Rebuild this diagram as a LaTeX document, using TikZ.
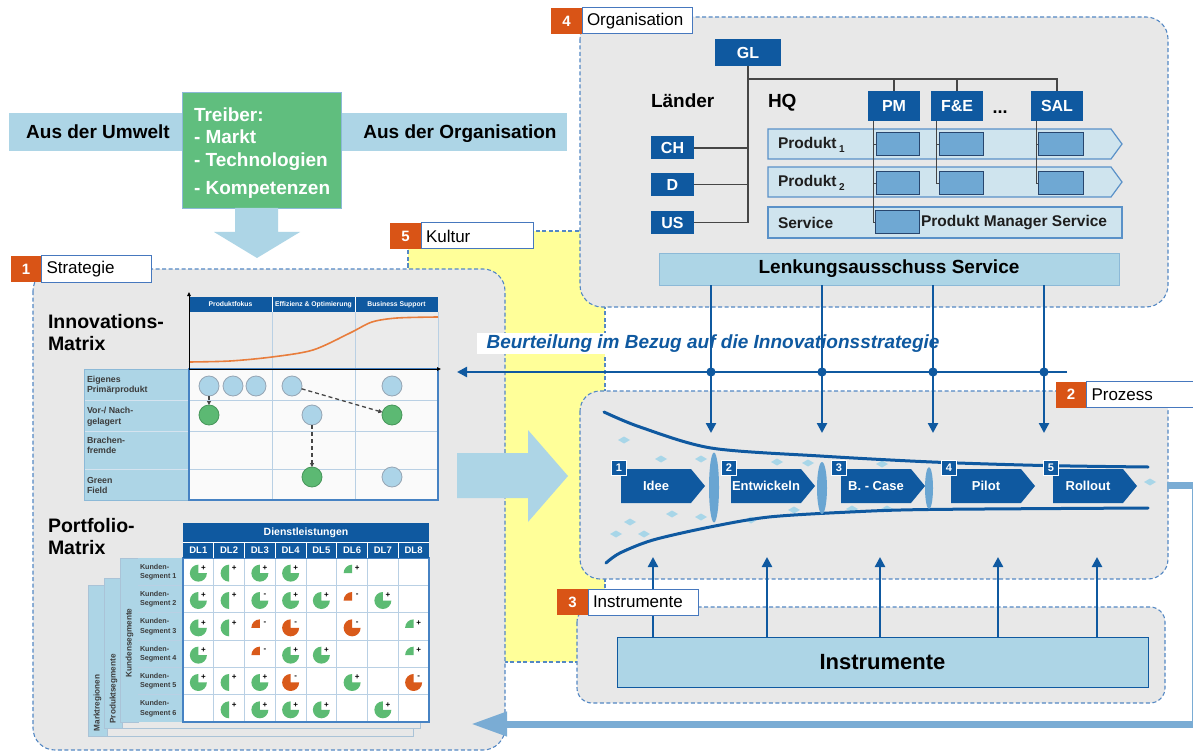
\documentclass[tikz,border=0pt]{standalone}
\usepackage{fontspec}
\setmainfont{Liberation Sans}
\usetikzlibrary{arrows.meta,calc}

\definecolor{dblue}{RGB}{15,89,160}
\definecolor{lblue}{RGB}{173,213,230}
\definecolor{lboxline}{RGB}{140,185,215}
\definecolor{pblue}{RGB}{207,228,238}
\definecolor{bandline}{RGB}{90,145,200}
\definecolor{mblue}{RGB}{111,168,211}
\definecolor{inline}{RGB}{40,70,110}
\definecolor{eblue}{RGB}{105,165,210}
\definecolor{dashcol}{RGB}{84,136,196}
\definecolor{tagline}{RGB}{70,120,190}
\definecolor{boxgray}{RGB}{232,232,232}
\definecolor{tagorange}{RGB}{217,84,22}
\definecolor{drvgreen}{RGB}{96,190,126}
\definecolor{piegreen}{RGB}{92,187,115}
\definecolor{pieorange}{RGB}{217,90,26}
\definecolor{kyellow}{RGB}{255,255,153}
\definecolor{diam}{RGB}{168,214,232}
\definecolor{fback}{RGB}{122,172,212}
\definecolor{treecol}{RGB}{70,70,70}
\definecolor{txtdark}{RGB}{30,30,30}
\definecolor{lbltxt}{RGB}{60,60,60}
\definecolor{gridl}{RGB}{185,208,228}
\definecolor{gridborder}{RGB}{70,130,195}
\definecolor{circlb}{RGB}{172,212,232}
\definecolor{circline}{RGB}{150,165,180}
\definecolor{circgr}{RGB}{92,185,115}
\definecolor{circgrline}{RGB}{70,150,90}
\definecolor{scurve}{RGB}{232,125,60}
\definecolor{sheetline}{RGB}{170,195,215}

\newcommand\fsz[1]{\fontsize{#1}{#1}\selectfont}
\newcommand\fszl[2]{\fontsize{#1}{#2}\selectfont}

% small diamond marks inside the funnel
\newcommand\dmd[2]{\fill[diam] (#1-6,#2) -- (#1,#2-3.5) -- (#1+6,#2) -- (#1,#2+3.5) -- cycle;}

% portfolio cell: column, row, kind (t = three quarter, h = half, q = quarter), colour, sign
\newcommand\pcell[5]{%
  \pgfmathsetmacro\cx{183+30.75*(#1-0.5)}%
  \pgfmathsetmacro\cy{558+27.33*(#2-0.5)+1.5}%
  \if t#3\fill[#4] (\cx,\cy) -- ++(8.5,0) arc[start angle=0,end angle=270,radius=8.5] -- cycle;\fi
  \if h#3\fill[#4] (\cx,\cy) -- ++(0,8.5) arc[start angle=90,end angle=270,radius=8.5] -- cycle;\fi
  \if q#3\fill[#4] (\cx,\cy) -- ++(-8.5,0) arc[start angle=180,end angle=270,radius=8.5] -- cycle;\fi
  \node[font=\fsz{8}\bfseries] (sg#1#2) at (\cx+5,\cy-5) {#5};
}

% process step chevron: left x, name, number, label
\newcommand\stepchev[4]{%
  \fill[dblue] (#1,469) -- (#1+70,469) -- (#1+84,486) -- (#1+70,503) -- (#1,503) -- cycle;
  \node[font=\fsz{13}\bfseries,text=white] (#2) at (#1+35,486) {#4};
  \node[fill=dblue,draw=white,line width=0.8pt,minimum size=15pt,font=\fsz{11}\bfseries,text=white] (#2n) at (#1-2,467.5) {#3};
}

\begin{document}
\begin{tikzpicture}[x=1pt,y=-1pt,
  every node/.style={inner sep=0pt,outer sep=0pt},
  container/.style={draw=dashcol,line width=1.1pt,dash pattern=on 4pt off 2.5pt},
  tagnum/.style={fill=tagorange,text=white,font=\fsz{15}\bfseries,minimum width=31pt,minimum height=26pt},
  tagtext/.style={draw=tagline,fill=white,line width=1pt,minimum height=26pt,inner xsep=5pt,align=left,anchor=west,font=\fsz{17}},
  dbox/.style={fill=dblue,text=white,font=\fsz{16}\bfseries},
  inbox/.style={fill=mblue,draw=inline,line width=1pt},
  band/.style={fill=pblue,draw=bandline,line width=1.2pt},
  lbox/.style={fill=lblue,draw=lboxline,line width=0.8pt},
  tree/.style={draw=treecol,line width=1.1pt},
  thintree/.style={draw=treecol,line width=0.8pt},
  varrow/.style={draw=dblue,line width=2.4pt,-{Triangle[length=10pt,width=10pt]}},
  lbc/.style={circle,minimum size=20pt,fill=circlb,draw=circline,line width=0.8pt},
  grc/.style={circle,minimum size=20pt,fill=circgr,draw=circgrline,line width=0.8pt},
  dasharrow/.style={draw=treecol,line width=1.3pt,dash pattern=on 4pt off 3pt,-{Triangle[length=4pt,width=4pt]}},
  sheet/.style={draw=sheetline,line width=0.8pt},
]
\useasboundingbox (0,0) rectangle (1193,751);
\fill[white] (0,0) rectangle (1193,751);

%% culture background
\draw[container,fill=kyellow] (408,231) rectangle (605,662);

%% containers
\draw[container,fill=boxgray,rounded corners=22pt] (33,269) rectangle (505,750);
\draw[container,fill=boxgray,rounded corners=22pt] (580,17) rectangle (1168,307);
\draw[container,fill=boxgray,rounded corners=20pt] (580,391) rectangle (1168,579);
\draw[container,fill=boxgray,rounded corners=15pt] (577,607) rectangle (1165,703);

%% drivers
\fill[lblue] (9,113) rectangle (567,151);
\node[font=\fsz{19}\bfseries,anchor=base] (umw) at (98,139) {Aus der Umwelt};
\node[font=\fsz{19}\bfseries,anchor=base] (orgsrc) at (460,139) {Aus der Organisation};
\node[fill=drvgreen,draw=lboxline,line width=0.8pt,minimum width=159pt,minimum height=116pt,anchor=north west] (drv) at (182,92) {};
\node[font=\fsz{19}\bfseries,text=white,anchor=base west] (d1) at (194,122) {Treiber:};
\node[font=\fsz{19}\bfseries,text=white,anchor=base west] (d2) at (194,144) {- Markt};
\node[font=\fsz{19}\bfseries,text=white,anchor=base west] (d3) at (194,167) {- Technologien};
\node[font=\fsz{19}\bfseries,text=white,anchor=base west] (d4) at (194,195) {- Kompetenzen};
\fill[lblue] (235,208) -- (278,208) -- (278,232) -- (300,232) -- (257,258) -- (214,232) -- (235,232) -- cycle;

%% big arrow strategy -> process
\fill[lblue] (457,453) -- (528,453) -- (528,430) -- (568,476) -- (528,522) -- (528,498) -- (457,498) -- cycle;

%% ---------- Organisation ----------
\node[dbox,minimum width=66pt,minimum height=27pt] (gl) at (748,52.5) {GL};
\node[dbox,minimum width=43pt,minimum height=23pt] (ch) at (672.5,148) {CH};
\node[dbox,minimum width=43pt,minimum height=23pt] (dd) at (672.5,184.5) {D};
\node[dbox,minimum width=43pt,minimum height=23pt] (us) at (672.5,222.5) {US};
\node[dbox,minimum width=52pt,minimum height=30pt] (pm) at (894,106) {PM};
\node[dbox,minimum width=52pt,minimum height=30pt] (fe) at (957,106) {F\&E};
\node[dbox,minimum width=52pt,minimum height=30pt] (sal) at (1057,106) {SAL};
\node[font=\fsz{18}\bfseries] (dots) at (1000,112) {...};
\coordinate (hq) at (748,79);
\draw[tree] (gl.south) |- (us.east);
\draw[tree] (ch.east) -- (ch.east -| gl.south);
\draw[tree] (dd.east) -- (dd.east -| gl.south);
\draw[tree] (hq) -| (sal.north);
\draw[tree] (hq -| pm.north) -- (pm.north);
\draw[tree] (hq -| fe.north) -- (fe.north);
\node[font=\fsz{19}\bfseries,anchor=base west] (laender) at (651,108) {Länder};
\node[font=\fsz{19}\bfseries,anchor=base west] (hqt) at (768,108) {HQ};

\draw[band] (768,129) -- (1111,129) -- (1122,144) -- (1111,159) -- (768,159) -- cycle;
\draw[band] (768,167) -- (1111,167) -- (1122,182) -- (1111,197) -- (768,197) -- cycle;
\node[band,minimum width=354pt,minimum height=31pt,anchor=north west] (svc) at (768,207) {};
\node[font=\fsz{15.5}\bfseries,text=txtdark,anchor=west] (p1t) at (778,145) {Produkt\,\raisebox{-4pt}{\fsz{10}1}};
\node[font=\fsz{15.5}\bfseries,text=txtdark,anchor=west] (p2t) at (778,183) {Produkt\,\raisebox{-4pt}{\fsz{10}2}};
\node[font=\fsz{15.5}\bfseries,text=txtdark,anchor=west] (svt) at (778,222.5) {Service};

\node[inbox,minimum width=43pt,minimum height=23pt] (p1a) at (897.5,144.5) {};
\node[inbox,minimum width=44pt,minimum height=23pt] (p1b) at (961,144.5) {};
\node[inbox,minimum width=45pt,minimum height=23pt] (p1c) at (1060.5,144.5) {};
\node[inbox,minimum width=43pt,minimum height=23pt] (p2a) at (897.5,183.5) {};
\node[inbox,minimum width=44pt,minimum height=23pt] (p2b) at (961,183.5) {};
\node[inbox,minimum width=45pt,minimum height=23pt] (p2c) at (1060.5,183.5) {};
\node[inbox,minimum width=44pt,minimum height=23pt] (sa) at (897,222.5) {};
\draw[thintree] ([xshift=5pt]pm.south west) |- (p1a.west);
\draw[thintree] ([xshift=5pt]pm.south west) |- (p2a.west);
\draw[thintree] ([xshift=5pt]pm.south west) |- (sa.west);
\draw[thintree] ([xshift=5pt]fe.south west) |- (p1b.west);
\draw[thintree] ([xshift=5pt]fe.south west) |- (p2b.west);
\draw[thintree] ([xshift=5pt]sal.south west) |- (p1c.west);
\draw[thintree] ([xshift=5pt]sal.south west) |- (p2c.west);
\node[font=\fsz{15.5}\bfseries,text=txtdark,anchor=west] (pms) at (921,222.5) {Produkt Manager Service};

\node[lbox,minimum width=460pt,minimum height=32pt,font=\fsz{19}\bfseries] (lenk) at (889,269) {Lenkungsausschuss Service};

%% ---------- Strategy: innovation matrix ----------
\node[font=\fsz{19.5}\bfseries,anchor=base west] (im1) at (48,328) {Innovations-};
\node[font=\fsz{19.5}\bfseries,anchor=base west] (im2) at (48,350) {Matrix};
\fill[boxgray!85!white] (189,312) rectangle (438,369);
\draw[gridl,line width=0.8pt] (272,312) -- (272,369) (355,312) -- (355,369) (438,312) -- (438,369);
\node[fill=dblue,minimum width=249pt,minimum height=15pt,anchor=north west] (ihead) at (189,297) {};
\draw[white,line width=0.8pt] (272,297) -- (272,312) (355,297) -- (355,312);
\node[font=\fsz{6.8}\bfseries,text=white] (h1) at (230.5,304.5) {Produktfokus};
\node[font=\fsz{6.8}\bfseries,text=white] (h2) at (313.5,304.5) {Effizienz \& Optimierung};
\node[font=\fsz{6.8}\bfseries,text=white] (h3) at (396.5,304.5) {Business Support};
\draw[scurve,line width=1.6pt] plot[smooth] coordinates {(189,362) (230,361) (272,357) (313,350) (350,333) (372,322) (397,318) (438,317)};
\fill[lblue] (84,369) rectangle (189,500);
\fill[white!96!gray] (189,369) rectangle (438,500);
\draw[gridl!60!white,line width=1pt] (84,400) -- (189,400) (84,431) -- (189,431) (84,469) -- (189,469);
\draw[gridl,line width=1pt] (189,400) -- (438,400) (189,431) -- (438,431) (189,469) -- (438,469) (272,369) -- (272,500) (355,369) -- (355,500);
\draw[lboxline,line width=0.8pt] (84,369) rectangle (189,500);
\draw[gridborder,line width=1.4pt] (189,369) rectangle (438,500);
\draw[black,line width=1pt,-{Triangle[length=4pt,width=3.5pt]}] (189,369) -- (189,292);
\draw[black,line width=1pt,-{Triangle[length=4pt,width=3.5pt]}] (189,369) -- (441,369);
\node[font=\fszl{8.8}{10.5}\bfseries,text=lbltxt,align=left,anchor=west] (r1) at (87,385) {Eigenes\\Primärprodukt};
\node[font=\fszl{8.8}{10.5}\bfseries,text=lbltxt,align=left,anchor=west] (r2) at (87,416.5) {Vor-/ Nach-\\gelagert};
\node[font=\fszl{8.8}{10.5}\bfseries,text=lbltxt,align=left,anchor=west] (r3) at (87,445.5) {Brachen-\\fremde};
\node[font=\fszl{8.8}{10.5}\bfseries,text=lbltxt,align=left,anchor=west] (r4) at (87,485.5) {Green\\Field};
\node[lbc] (c11) at (209,386) {};
\node[lbc] (c12) at (233,386) {};
\node[lbc] (c13) at (256,386) {};
\node[lbc] (c14) at (292,386) {};
\node[lbc] (c15) at (392,386) {};
\node[grc] (c21) at (209,415) {};
\node[lbc] (c22) at (312,415) {};
\node[grc] (c23) at (392,415) {};
\node[grc] (c41) at (312,477) {};
\node[lbc] (c42) at (392,477) {};
\draw[dasharrow] (c11) -- (c21);
\draw[dasharrow] (c14) -- (c23);
\draw[dasharrow] (c22) -- (c41);

%% ---------- Strategy: portfolio matrix ----------
\node[font=\fsz{19.5}\bfseries,anchor=base west] (pf1) at (48,532) {Portfolio-};
\node[font=\fsz{19.5}\bfseries,anchor=base west] (pf2) at (48,554) {Matrix};
\draw[sheet,fill=boxgray] (88,585) rectangle (413,736);
\draw[sheet,fill=lblue] (88,585) rectangle (107,736);
\draw[sheet,fill=boxgray] (104,578) rectangle (420,728);
\draw[sheet,fill=lblue] (104,578) rectangle (122,728);
\draw[sheet,fill=lblue] (120,558) rectangle (138,722);
\fill[lblue] (138,558) rectangle (183,722);
\fill[white] (183,558) rectangle (429,722);
\foreach \k in {1,...,5} {
  \draw[gridl,line width=0.8pt] (138,558+27.33*\k) -- (429,558+27.33*\k);
}
\foreach \k in {1,...,7} {
  \draw[gridl,line width=0.8pt] (183+30.75*\k,558) -- (183+30.75*\k,722);
}
\draw[gridborder,line width=1.3pt] (183,558) rectangle (429,722);
\fill[dblue] (183,523) rectangle (429,558);
\draw[white,line width=0.6pt] (183,542) -- (429,542);
\foreach \k in {1,...,7} {
  \draw[white,line width=0.6pt] (183+30.75*\k,542) -- (183+30.75*\k,558);
}
\node[font=\fsz{10.5}\bfseries,text=white] (dl) at (306,532.5) {Dienstleistungen};
\foreach \k in {1,...,8} {
  \node[font=\fsz{9.5}\bfseries,text=white] (dl\k) at (183+30.75*\k-15.4,550.5) {DL\k};
  }
\foreach \k in {1,...,6} {
  \node[font=\fszl{7.2}{9.3}\bfseries,text=lbltxt,align=left,anchor=west] (ks\k) at (140,558+27.33*\k-13.2) {Kunden-\\Segment \k};
}
\node[font=\fsz{8.2}\bfseries,text=lbltxt,rotate=90] (kseg) at (129.5,643) {Kundensegmente};
\node[font=\fsz{8.2}\bfseries,text=lbltxt,rotate=90] (pseg) at (113.5,689) {Produktsegmente};
\node[font=\fsz{8.2}\bfseries,text=lbltxt,rotate=90] (mreg) at (97.5,703) {Marktregionen};

\pcell{1}{1}{t}{piegreen}{+}\pcell{2}{1}{h}{piegreen}{+}\pcell{3}{1}{t}{piegreen}{+}\pcell{4}{1}{t}{piegreen}{+}\pcell{6}{1}{q}{piegreen}{+}
\pcell{1}{2}{t}{piegreen}{+}\pcell{2}{2}{h}{piegreen}{+}\pcell{3}{2}{t}{piegreen}{-}\pcell{4}{2}{t}{piegreen}{+}\pcell{5}{2}{t}{piegreen}{+}\pcell{6}{2}{q}{pieorange}{-}\pcell{7}{2}{t}{piegreen}{+}
\pcell{1}{3}{t}{piegreen}{+}\pcell{2}{3}{h}{piegreen}{+}\pcell{3}{3}{q}{pieorange}{-}\pcell{4}{3}{t}{pieorange}{-}\pcell{6}{3}{t}{pieorange}{-}\pcell{8}{3}{q}{piegreen}{+}
\pcell{1}{4}{t}{piegreen}{+}\pcell{3}{4}{q}{pieorange}{-}\pcell{4}{4}{t}{piegreen}{+}\pcell{5}{4}{t}{piegreen}{+}\pcell{8}{4}{q}{piegreen}{+}
\pcell{1}{5}{t}{piegreen}{+}\pcell{2}{5}{h}{piegreen}{+}\pcell{3}{5}{t}{piegreen}{+}\pcell{4}{5}{t}{pieorange}{-}\pcell{6}{5}{t}{piegreen}{+}\pcell{8}{5}{t}{pieorange}{-}
\pcell{2}{6}{h}{piegreen}{+}\pcell{3}{6}{t}{piegreen}{+}\pcell{4}{6}{t}{piegreen}{+}\pcell{5}{6}{t}{piegreen}{+}\pcell{7}{6}{t}{piegreen}{+}

%% ---------- Process ----------
\dmd{624}{440}\dmd{661}{459}\dmd{701}{459}\dmd{777}{462}\dmd{808}{463}\dmd{882}{464}
\dmd{672}{514}\dmd{701}{517}\dmd{630}{522}\dmd{751}{520}\dmd{794}{510}\dmd{852}{509}
\dmd{887}{509}\dmd{616}{534}\dmd{644}{534}\dmd{1150}{482}
\draw[dblue,line width=3pt,line cap=round] plot[smooth] coordinates {(604,412) (640,427) (711,448) (820,456) (932,462) (1043,465.5) (1148,467)};
\draw[dblue,line width=3pt,line cap=round] plot[smooth] coordinates {(606,563) (620,553) (653,540) (710,527) (769,517) (850,512) (928,509.5) (1148,508)};
\fill[eblue] (714,487.5) ellipse [x radius=5,y radius=35];
\fill[eblue] (822,488) ellipse [x radius=5,y radius=26];
\fill[eblue] (929,488) ellipse [x radius=4,y radius=21];
\stepchev{621}{sidee}{1}{Idee}
\stepchev{731}{sentw}{2}{Entwickeln}
\stepchev{841}{scase}{3}{B. - Case}
\stepchev{951}{spilot}{4}{Pilot}
\stepchev{1053}{sroll}{5}{Rollout}

%% ---------- Instruments ----------
\node[fill=lblue,draw=dblue,line width=1pt,minimum width=531pt,minimum height=50pt,font=\fsz{22}\bfseries] (instr) at (882.5,662) {Instrumente};
\foreach \x/\n in {653/1,767/2,880/3,998/4,1097/5} {
  \coordinate (btg\n) at (\x,557);
  \draw[varrow] (instr.north -| btg\n) -- (btg\n);
}

%% ---------- assessment feedback ----------
\node[fill=white,minimum width=472pt,minimum height=21pt,font=\fsz{19}\bfseries\itshape,text=dblue] (beurt) at (713,343.5) {Beurteilung im Bezug auf die Innovationsstrategie};
\coordinate (bstart) at (1067,372);
\coordinate (bend) at (457,372);
\draw[dblue,line width=2.4pt,-{Triangle[length=10pt,width=10pt]}] (bstart) -- (bend);
\foreach \x/\n in {711/1,822/2,933/3,1044/4} {
  \coordinate (tgt\n) at (\x,433);
  \draw[varrow] (lenk.south -| tgt\n) -- (tgt\n);
  \fill[dblue] (\x,372) circle (4.6);
}

%% ---------- loop back from rollout ----------
\coordinate (fbstart) at (1167,485);
\coordinate (fbend) at (471,724);
\draw[fback,line width=7pt,-{Triangle[length=36pt,width=23pt]}] (fbstart) -- (1195,485) -- (1195,724) -- (fbend);

%% ---------- section tags ----------
\node[tagnum] (n1) at (26,269) {1};
\node[tagtext,text width=100pt] (t1) at (41.5,269) {Strategie};
\node[tagnum] (n5) at (405.5,236) {5};
\node[tagtext,text width=102pt] (t5) at (421,236) {Kultur};
\node[tagnum] (n4) at (566.5,21) {4};
\node[tagtext,text width=100pt] (t4) at (582,21) {Organisation};
\node[tagnum] (n2) at (1071,394.5) {2};
\node[tagtext,text width=110pt] (t2) at (1086.5,394.5) {Prozess};
\node[tagnum] (n3) at (572.5,602) {3};
\node[tagtext,text width=100pt] (t3) at (588,602) {Instrumente};
\end{tikzpicture}
\end{document}
